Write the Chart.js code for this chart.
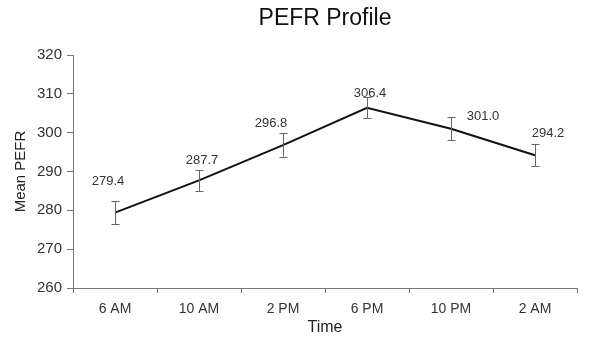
<!doctype html>
<html lang="en">
  <head>
    <meta charset="utf-8">
    <title>PEFR Profile</title>
    <style>
      * { margin: 0; padding: 0; }
      body { background: #fff; }
    </style>
  </head>
  <body>
    <canvas id="myChart" width="589" height="337"></canvas>
    <script src="https://cdn.jsdelivr.net/npm/chart.js/dist/chart.umd.min.js"></script>
    <script>
    // data
    const times = ['6 AM', '10 AM', '2 PM', '6 PM', '10 PM', '2 AM'];
    const meanPefr = [279.4, 287.7, 296.8, 306.4, 301.0, 294.2];
    const errPefr = [3.0, 2.7, 3.0, 2.7, 3.0, 2.8];
    const yTicks = [260, 270, 280, 290, 300, 310, 320];

    const FONT = '"Liberation Sans", Arial, sans-serif';

    // error bars + value labels + title
    const extras = {
      id: 'extras',
      afterDatasetsDraw(chart, args, opts) {
        const { ctx, scales: { x, y } } = chart;
        ctx.save();
        ctx.strokeStyle = '#666';
        ctx.lineWidth = 1;
        meanPefr.forEach((v, i) => {
          const px = Math.round(x.getPixelForValue(i)) + 0.5;
          const top = y.getPixelForValue(v + errPefr[i]);
          const bot = y.getPixelForValue(v - errPefr[i]);
          ctx.beginPath();
          ctx.moveTo(px, top); ctx.lineTo(px, bot);
          ctx.moveTo(px - 4, Math.round(top) + 0.5); ctx.lineTo(px + 4, Math.round(top) + 0.5);
          ctx.moveTo(px - 4, Math.round(bot) + 0.5); ctx.lineTo(px + 4, Math.round(bot) + 0.5);
          ctx.stroke();
        });
        ctx.fillStyle = '#333';
        ctx.font = '13px ' + FONT;
        ctx.textAlign = 'center';
        ctx.textBaseline = 'middle';
        meanPefr.forEach((v, i) => {
          const [dx, dy] = opts.offsets[i];
          ctx.fillText(v.toFixed(1), x.getPixelForValue(i) + dx, y.getPixelForValue(v) + dy);
        });
        ctx.fillStyle = '#111';
        ctx.font = '23px ' + FONT;
        ctx.fillText('PEFR Profile', (chart.chartArea.left + chart.chartArea.right) / 2, 19);
        ctx.restore();
      }
    };

    const config = {
      type: 'line',
      data: {
        labels: times,
        datasets: [{
          data: meanPefr,
          borderColor: '#111',
          borderWidth: 2,
          pointRadius: 0,
          tension: 0
        }]
      },
      options: {
        responsive: false,
        animation: false,
        layout: { padding: { top: 55, right: 12, left: 0, bottom: 0 } },
        plugins: {
          legend: { display: false },
          tooltip: { enabled: false },
          extras: { offsets: [[-7, -31], [3, -20], [-12, -22], [3, -14], [32, -12], [13, -22]] }
        },
        scales: {
          x: {
            offset: true,
            grid: { offset: true, drawOnChartArea: false, tickLength: 5, color: '#777' },
            border: { color: '#777', width: 1 },
            ticks: { color: '#333', padding: 8, maxRotation: 0, autoSkip: false, font: { size: 14, family: FONT } },
            title: { display: true, text: 'Time', color: '#222', padding: { top: 0, bottom: 0 }, font: { size: 16, family: FONT } },
            afterFit(s) { s.height = 49; }
          },
          y: {
            min: 260,
            max: 320,
            afterBuildTicks(s) { s.ticks = yTicks.map(v => ({ value: v })); },
            grid: { drawOnChartArea: false, tickLength: 6, color: '#777' },
            border: { color: '#777', width: 1 },
            ticks: { color: '#333', padding: 5, autoSkip: false, font: { size: 15, family: FONT } },
            title: { display: true, text: 'Mean PEFR', color: '#222', padding: { top: 12, bottom: 0 }, font: { size: 15, family: FONT } },
            afterFit(s) { s.width = 73; }
          }
        }
      },
      plugins: [extras]
    };

    const myChart = new Chart(document.getElementById('myChart'), config);
    </script>
  </body>
</html>
